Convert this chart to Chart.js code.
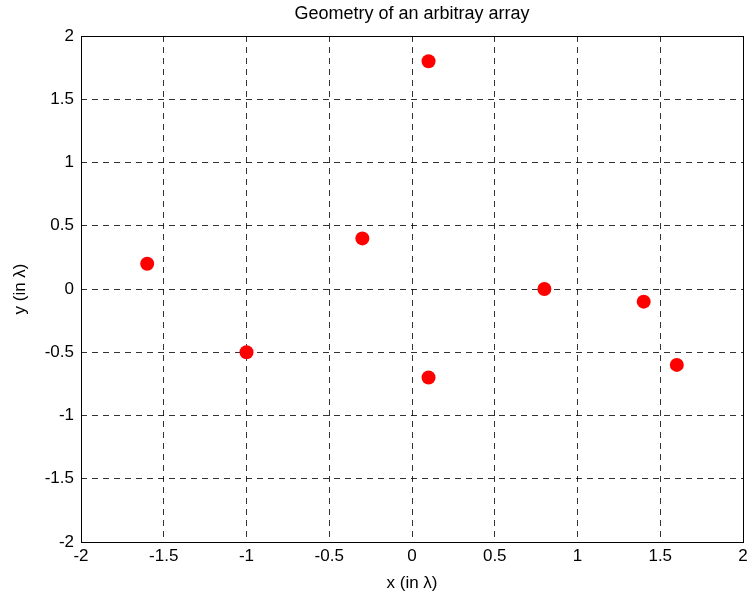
<!DOCTYPE html>
<html>
<head>
<meta charset="utf-8">
<script src="https://cdn.jsdelivr.net/npm/chart.js@4/dist/chart.umd.min.js"></script>
<style>
html,body{margin:0;padding:0;background:#fff;}
#wrap{width:752px;height:603px;}
</style>
</head>
<body>
<div id="wrap"><canvas id="c" width="752" height="603"></canvas></div>
<script>
const xValues = [-1.6, -1.0, -0.3, 0.1, 0.1, 0.8, 1.4, 1.6];
const yValues = [0.2, -0.5, 0.4, 1.8, -0.7, 0.0, -0.1, -0.6];
const tickValues = [-2, -1.5, -1, -0.5, 0, 0.5, 1, 1.5, 2];
const tickLabels = ['-2', '-1.5', '-1', '-0.5', '0', '0.5', '1', '1.5', '2'];
const titleText = 'Geometry of an arbitray array';
const xTitle = 'x (in \u03bb)';
const yTitle = 'y (in \u03bb)';

const points = xValues.map((x, i) => ({x: x, y: yValues[i]}));
const FONT = "'Liberation Sans', Arial, Helvetica, sans-serif";
const FS = 17;

const boxPlugin = {
  id: 'box',
  afterLayout(chart) {
    // center the title over the plot area
    const a = chart.chartArea;
    if (chart.titleBlock) {
      chart.titleBlock.left = a.left;
      chart.titleBlock.right = a.right;
    }
  },
  afterDatasetsDraw(chart) {
    const a = chart.chartArea;
    const ctx = chart.ctx;
    ctx.save();
    ctx.strokeStyle = '#000';
    ctx.lineWidth = 1;
    ctx.strokeRect(Math.round(a.left) + 0.5, Math.round(a.top) + 0.5,
                   Math.round(a.right - a.left), Math.round(a.bottom - a.top));
    ctx.restore();
  }
};

function labelFor(v) {
  const idx = tickValues.findIndex(t => Math.abs(t - v) < 1e-9);
  return idx >= 0 ? tickLabels[idx] : '';
}
function gridColor(ctx) {
  const v = ctx.tick ? ctx.tick.value : 0;
  return (Math.abs(v) > 1.999) ? 'rgba(0,0,0,0)' : 'rgba(0,0,0,0.8)';
}

new Chart(document.getElementById('c'), {
  type: 'scatter',
  data: {
    datasets: [{
      data: points,
      backgroundColor: '#ff0000',
      borderColor: '#ff0000',
      borderWidth: 0,
      pointRadius: 7,
      pointHoverRadius: 7
    }]
  },
  plugins: [boxPlugin],
  options: {
    responsive: false,
    animation: false,
    events: [],
    layout: {padding: {left: 0, right: 9, top: 0, bottom: 0}},
    plugins: {
      legend: {display: false},
      tooltip: {enabled: false},
      title: {
        display: true,
        text: titleText,
        color: '#000',
        font: {family: FONT, size: 18, weight: 'normal'},
        padding: {top: 3, bottom: 11.4}
      }
    },
    scales: {
      x: {
        type: 'linear',
        min: -2, max: 2,
        afterFit(s) { s.height = 61; },
        afterBuildTicks(s) { s.ticks = tickValues.map(v => ({value: v})); },
        border: {display: false, dash: [6, 5]},
        grid: {color: gridColor, lineWidth: 1, drawTicks: false},
        ticks: {
          color: '#000', padding: 4,
          font: {family: FONT, size: FS},
          callback: (v) => labelFor(v),
          maxRotation: 0, autoSkip: false
        },
        title: {
          display: true, text: xTitle, color: '#000',
          font: {family: FONT, size: FS},
          padding: {top: 0, bottom: 9}
        }
      },
      y: {
        type: 'linear',
        min: -2, max: 2,
        afterFit(s) { s.width = 81; },
        afterBuildTicks(s) { s.ticks = tickValues.map(v => ({value: v})); },
        border: {display: false, dash: [6, 5]},
        grid: {color: gridColor, lineWidth: 1, drawTicks: false},
        ticks: {
          color: '#000', padding: 7,
          font: {family: FONT, size: FS},
          callback: (v) => labelFor(v),
          autoSkip: false
        },
        title: {
          display: true, text: yTitle, color: '#000',
          font: {family: FONT, size: FS},
          padding: {top: 10, bottom: 0}
        }
      }
    }
  }
});
</script>
</body>
</html>
